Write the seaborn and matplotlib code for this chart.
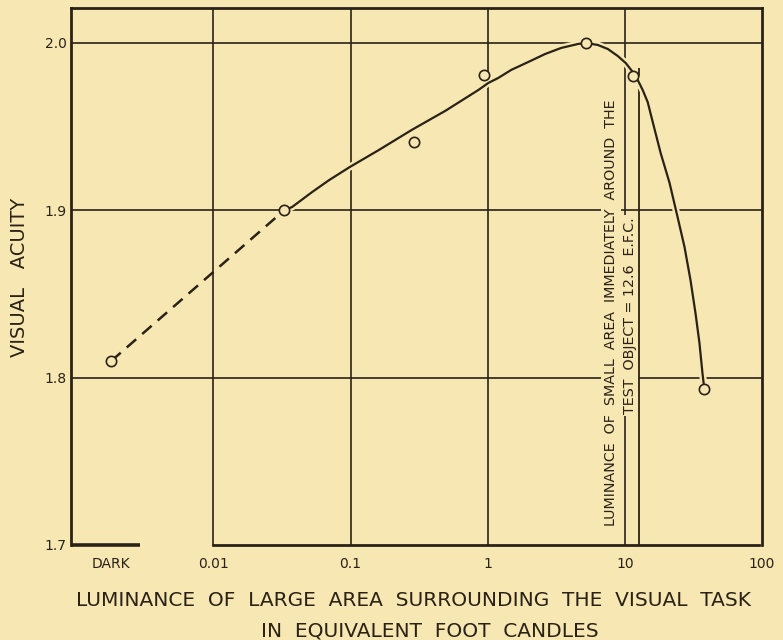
import numpy as np
import pandas as pd
import matplotlib
matplotlib.use("Agg")
import matplotlib.pyplot as plt
import matplotlib.patheffects as pe
import seaborn as sns

# ---- data ----
dark_x = 0.0018                      # position used for the "DARK" condition
point_x = [dark_x, 0.0328, 0.292, 0.935, 5.2, 11.4, 38.0]
point_y = [1.810, 1.900, 1.941, 1.981, 2.000, 1.980, 1.793]

dash_x = [dark_x, 0.0328]
dash_y = [1.810, 1.900]

curve_x = [0.0328, 0.0375, 0.0524, 0.0696, 0.0988, 0.1605, 0.2787, 0.4921, 0.8545,
           1.010, 1.194, 1.484, 1.972, 2.620, 3.423, 4.550, 5.202, 6.357, 7.513,
           8.880, 10.15, 11.41, 12.41, 13.49, 14.67, 15.94, 18.23, 21.19, 24.23,
           27.23, 30.10, 32.73, 34.99, 36.79, 38.04]
curve_y = [1.9000, 1.9020, 1.9109, 1.9180, 1.9259, 1.9360, 1.9480, 1.9595, 1.9719,
           1.9761, 1.9791, 1.9839, 1.9886, 1.9934, 1.9970, 1.9994, 2.0000, 1.9988,
           1.9964, 1.9922, 1.9880, 1.9827, 1.9779, 1.9719, 1.9647, 1.9530, 1.9343,
           1.9163, 1.8960, 1.8781, 1.8583, 1.8386, 1.8207, 1.8028, 1.7926]

x_ticks = [dark_x, 0.01, 0.1, 1, 10, 100]
x_tick_labels = ["DARK", "0.01", "0.1", "1", "10", "100"]
y_ticks = [1.7, 1.8, 1.9, 2.0]
y_tick_labels = ["1.7", "1.8", "1.9", "2.0"]
x_grid = [0.01, 0.1, 1, 10]
y_grid = [1.8, 1.9, 2.0]
test_object_luminance = 12.6

BG = "#F7E7B3"
INK = "#2A2217"

sns.set_theme(style="white", rc={"axes.facecolor": BG, "figure.facecolor": BG})
plt.rcParams["font.family"] = ["DejaVu Sans"]

fig = plt.figure(figsize=(7.83, 6.40), dpi=100)
ax = fig.add_axes([71 / 783, 95 / 640, 691 / 783, 537 / 640])
ax.set_xscale("log")
ax.set_xlim(10 ** -3.0385, 10 ** 1.98)
ax.set_ylim(1.7, 2.0209)

# grid lines
for gx in x_grid:
    ax.axvline(gx, color=INK, lw=1.2, zorder=1)
for gy in y_grid:
    ax.axhline(gy, color=INK, lw=1.2, zorder=1)

# 12.6 E.F.C. marker line
ax.vlines(test_object_luminance, 1.7, 1.985, color=INK, lw=1.3, zorder=5)

halo = [pe.Stroke(linewidth=5, foreground=BG), pe.Normal()]
df_curve = pd.DataFrame({"x": curve_x, "y": curve_y})
sns.lineplot(data=df_curve, x="x", y="y", sort=False, color=INK, lw=1.6, ax=ax,
             zorder=6, path_effects=halo)
df_dash = pd.DataFrame({"x": dash_x, "y": dash_y})
sns.lineplot(data=df_dash, x="x", y="y", sort=False, color=INK, lw=1.8, ax=ax,
             zorder=6, dashes=False, linestyle=(0, (5, 3.2)))
df_pts = pd.DataFrame({"x": point_x, "y": point_y})
sns.scatterplot(data=df_pts, x="x", y="y", s=55, facecolor=BG, edgecolor=INK,
                linewidth=1.2, ax=ax, zorder=7)

# annotations (rotated)
ax.text(10 ** 0.8976, 1.8386, "LUMINANCE  OF  SMALL  AREA  IMMEDIATELY  AROUND  THE",
        rotation=90, ha="center", va="center", fontsize=10.3, color=INK, zorder=4,
        bbox=dict(boxstyle="square,pad=0.2", fc=BG, ec="none"))
ax.text(10 ** 1.0356, 1.837, "TEST  OBJECT = 12.6  E.F.C.",
        rotation=90, ha="center", va="center", fontsize=10.3, color=INK, zorder=4,
        bbox=dict(boxstyle="square,pad=0.15", fc=BG, ec="none"))

# spines
for side in ["left", "top", "right", "bottom"]:
    ax.spines[side].set_color(INK)
    ax.spines[side].set_linewidth(2.0)
ax.spines["bottom"].set_bounds(0.01, 10 ** 1.98)
ax.plot([10 ** -3.0385, 0.0029], [1.7, 1.7], color=INK, lw=2.6, clip_on=False,
        solid_capstyle="butt", zorder=8)

ax.set_xticks(x_ticks)
ax.set_xticklabels(x_tick_labels)
ax.set_yticks(y_ticks)
ax.set_yticklabels(y_tick_labels)
ax.minorticks_off()
ax.tick_params(axis="both", length=0, labelsize=10, colors=INK)
ax.tick_params(axis="x", pad=9)
ax.tick_params(axis="y", pad=3)
ax.set_xlabel("")
ax.set_ylabel("")

fig.text(20 / 783, 1 - 277 / 640, "VISUAL   ACUITY", rotation=90, ha="center",
         va="center", fontsize=14, color=INK)
fig.text(413 / 783, 1 - 600 / 640,
         "LUMINANCE  OF  LARGE  AREA  SURROUNDING  THE  VISUAL  TASK",
         ha="center", va="center", fontsize=14.5, color=INK)
fig.text(430 / 783, 1 - 631 / 640, "IN  EQUIVALENT  FOOT  CANDLES",
         ha="center", va="center", fontsize=14.5, color=INK)

fig.savefig("out.png", dpi=100, facecolor=BG)
